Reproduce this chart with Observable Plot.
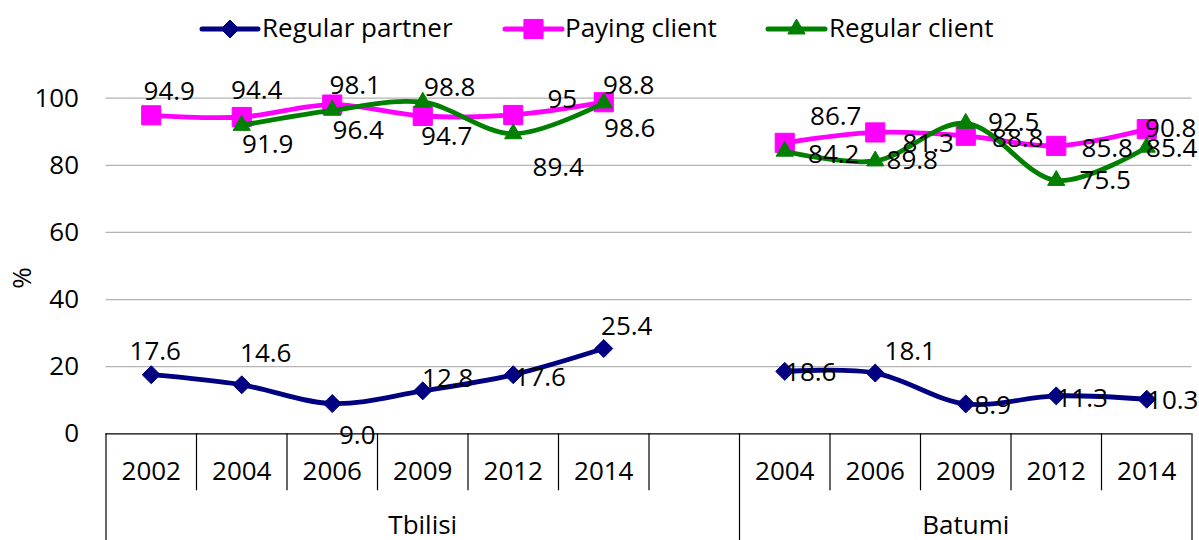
<!DOCTYPE html>
<html><head><meta charset="utf-8">
<script src="https://cdn.jsdelivr.net/npm/d3@7"></script>
<script src="https://cdn.jsdelivr.net/npm/@observablehq/plot@0.6"></script>
<style>
html,body{margin:0;padding:0;background:#fff;}
#chart{width:1199px;height:540px;overflow:hidden;font-family:"Open Sans",sans-serif;}
svg{display:block}
</style></head><body><div id="chart"></div>
<script>
// ---- data ----
const cities = ["Tbilisi", "Batumi"];
const tbilisiYears = ["2002", "2004", "2006", "2009", "2012", "2014"];
const batumiYears = ["2004", "2006", "2009", "2012", "2014"];
const seriesNames = ["Regular partner", "Paying client", "Regular client"];
const regularPartnerTbilisi = [17.6, 14.6, 9.0, 12.8, 17.6, 25.4];
const regularPartnerBatumi = [18.6, 18.1, 8.9, 11.3, 10.3];
const payingClientTbilisi = [94.9, 94.4, 98.1, 94.7, 95, 98.8];
const payingClientBatumi = [86.7, 89.8, 88.8, 85.8, 90.8];
const regularClientTbilisi = [null, 91.9, 96.4, 98.8, 89.4, 98.6];
const regularClientBatumi = [84.2, 81.3, 92.5, 75.5, 85.4];
const yTicks = [0, 20, 40, 60, 80, 100];

// ---- styles ----
const FONT = 26;
const seriesStyle = {
  "Regular partner": {color: "#000080", symbol: "diamond2", r: 8.1, d3sym: d3.symbolDiamond2, digits: 1},
  "Paying client": {color: "#FF00FF", symbol: "square", r: 10.8, d3sym: d3.symbolSquare, digits: null},
  "Regular client": {color: "#008000", symbol: "triangle", r: 6.4, d3sym: d3.symbolTriangle, digits: null}
};
// data-label nudges (pixels) per point, mimicking the original label placement
const labelNudges = {
  "Regular partner": {Tbilisi: [[4,-23],[24,-31],[25,32],[25,-12],[27,3],[23,-22]], Batumi: [[26,1],[35,-21],[27,2],[26,3],[26,1]]},
  "Paying client": {Tbilisi: [[18,-24],[15,-26],[23,-19],[24,21],[49,-15],[25,-17]], Batumi: [[51,-26],[37,28],[52,3],[51,3],[24,0]]},
  "Regular client": {Tbilisi: [null,[26,19],[26,20],[27,-15],[45,34],[26,26]], Batumi: [[49,3],[53,-17],[48,-1],[49,0],[25,1]]}
};

// ---- build tables ----
const cityYears = {Tbilisi: tbilisiYears, Batumi: batumiYears};
const cityStart = {Tbilisi: 0, Batumi: tbilisiYears.length + 1}; // one empty slot between groups
const nSlots = tbilisiYears.length + 1 + batumiYears.length;
const seriesValues = {
  "Regular partner": {Tbilisi: regularPartnerTbilisi, Batumi: regularPartnerBatumi},
  "Paying client": {Tbilisi: payingClientTbilisi, Batumi: payingClientBatumi},
  "Regular client": {Tbilisi: regularClientTbilisi, Batumi: regularClientBatumi}
};
const slots = [];
for (const c of cities) cityYears[c].forEach((yr, i) => slots.push({city: c, year: yr, slot: cityStart[c] + i}));

const rows = [];
for (const s of seriesNames) for (const c of cities) {
  seriesValues[s][c].forEach((v, i) => {
    if (v == null) return;
    const st = seriesStyle[s];
    const n = labelNudges[s][c][i] || [0, 0];
    rows.push({series: s, city: c, year: cityYears[c][i], slot: cityStart[c] + i, value: v,
      label: st.digits != null ? v.toFixed(st.digits) : String(v), dx: n[0], dy: n[1]});
  });
}
const xc = d => d.slot + 0.5;

// ---- legend ----
const LEG_H = 58;
const legend = d3.select("#chart").append("svg").attr("width", 1199).attr("height", LEG_H);
const legPos = [{x0: 202, x1: 258, tx: 262}, {x0: 505, x1: 562, tx: 565}, {x0: 768, x1: 825, tx: 829}];
seriesNames.forEach((s, i) => {
  const st = seriesStyle[s], p = legPos[i], cy = 29;
  legend.append("line").attr("x1", p.x0).attr("x2", p.x1).attr("y1", cy).attr("y2", cy)
    .attr("stroke", st.color).attr("stroke-width", 5).attr("stroke-linecap", "round");
  legend.append("path").attr("d", d3.symbol(st.d3sym, Math.PI * st.r * st.r)())
    .attr("transform", `translate(${(p.x0 + p.x1) / 2},${cy})`).attr("fill", st.color).attr("stroke", st.color);
  legend.append("text").attr("x", p.tx).attr("y", 37).attr("font-family", "Open Sans")
    .attr("font-size", FONT).attr("fill", "#000").text(s);
});

// ---- chart ----
const marks = [
  Plot.ruleY(yTicks.filter(t => t > 0), {stroke: "#b3b3b3", strokeWidth: 1.3}),
  Plot.ruleY([0], {stroke: "#000", strokeWidth: 1.3}),
  Plot.axisY({ticks: yTicks, tickSize: 0, tickPadding: 27, fontSize: FONT, label: null, tickFormat: d => String(d)}),
  Plot.text(["%"], {frameAnchor: "left", textAnchor: "middle", dx: -83, dy: 12, rotate: -90, fontSize: FONT}),
  Plot.axisX({ticks: slots.map(xc), tickFormat: v => (slots.find(s => xc(s) === v) || {}).year, tickSize: 0, tickPadding: 28, fontSize: FONT, label: null}),
  Plot.axisX({ticks: cities.map(c => cityStart[c] + (c === "Tbilisi" ? (tbilisiYears.length + 1) / 2 : batumiYears.length / 2)),
    tickFormat: v => v < cityStart.Batumi ? cities[0] : cities[1], tickSize: 0, tickPadding: 82, fontSize: FONT, label: null}),
  Plot.axisX({ticks: d3.range(1, nSlots).filter(b => b !== cityStart.Batumi), tickSize: 57, tickFormat: () => "", stroke: "#000", strokeWidth: 1.2, label: null}),
  Plot.axisX({ticks: [0, cityStart.Batumi, nSlots], tickSize: 107, tickFormat: () => "", stroke: "#000", strokeWidth: 1.2, label: null})
];
for (const s of seriesNames) {
  const st = seriesStyle[s];
  const data = rows.filter(d => d.series === s);
  marks.push(Plot.line(data, {x: xc, y: "value", z: "city", stroke: st.color, strokeWidth: 4.8, curve: "catmull-rom"}));
  marks.push(Plot.dot(data, {x: xc, y: "value", symbol: () => st.symbol, r: st.r, fill: st.color, stroke: st.color, strokeWidth: 1}));
}
for (const d of rows) {
  marks.push(Plot.text([d], {x: xc, y: "value", text: "label", dx: d.dx, dy: d.dy, fontSize: FONT, fill: "#000", textAnchor: "middle", lineAnchor: "middle"}));
}

const chart = Plot.plot({
  width: 1199, height: 540 - LEG_H,
  marginLeft: 105.5, marginRight: 7.5, marginTop: 39.7, marginBottom: 106.7,
  x: {type: "linear", domain: [0, nSlots], label: null},
  y: {domain: [0, 100], label: null},
  symbol: {type: "identity"},
  style: {fontFamily: "Open Sans", fontSize: FONT + "px", color: "#000", background: "#fff", overflow: "visible"},
  marks
});
document.getElementById("chart").appendChild(chart);
</script></body></html>
